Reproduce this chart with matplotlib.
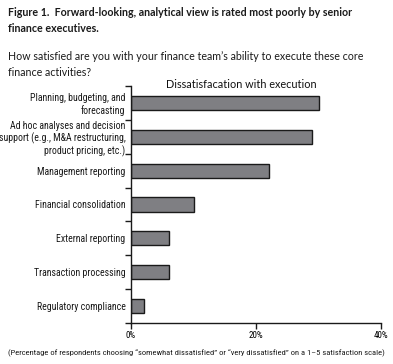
import matplotlib
matplotlib.use("Agg")
import matplotlib.pyplot as plt
from matplotlib.ticker import FixedLocator, FuncFormatter

categories = [
    "Planning, budgeting, and\nforecasting",
    "Ad hoc analyses and decision\nsupport (e.g., M&A restructuring,\nproduct pricing, etc.)",
    "Management reporting",
    "Financial consolidation",
    "External reporting",
    "Transaction processing",
    "Regulatory compliance",
]
values = [30, 29, 22, 10, 6, 6, 2]
xticks = [0, 20, 40]

W, H = 393, 364
fig = plt.figure(figsize=(W / 100, H / 100), dpi=100)
fig.patch.set_facecolor("white")

narrow = ["Roboto Condensed", "DejaVu Sans"]
body = ["Lato", "DejaVu Sans"]

ax = fig.add_axes([131 / W, (H - 323) / H, (381 - 131) / W, (323 - 86) / H])
n = len(categories)
ypos = list(range(n))
ax.barh(ypos, values, height=0.42, color="#7f7f83", edgecolor="#1a1a1a", linewidth=1.0)
ax.set_xlim(0, 40)
ax.set_ylim(n - 0.5, -0.5)
for s in ["top", "right"]:
    ax.spines[s].set_visible(False)
for s in ["left", "bottom"]:
    ax.spines[s].set_color("#1a1a1a")
    ax.spines[s].set_linewidth(1.0)

ax.set_xticks(xticks)
ax.xaxis.set_major_formatter(FuncFormatter(lambda v, p: f"{int(v)}%"))
ax.tick_params(axis="x", length=4, width=1, color="#1a1a1a", pad=2, labelsize=6.5)
for lab in ax.get_xticklabels():
    lab.set_family(narrow)

ax.set_yticks(ypos)
ax.set_yticklabels(categories, family=narrow, fontsize=7.1, linespacing=1.15, color="#1a1a1a")
ax.tick_params(axis="y", which="major", length=0, pad=4)
ax.yaxis.set_minor_locator(FixedLocator([i + 0.5 for i in range(-1, n)]))
ax.tick_params(axis="y", which="minor", length=4, width=1, color="#1a1a1a")

fig.text(241 / W, 1 - 88.5 / H, "Dissatisfacation with execution", ha="center", va="baseline",
         fontsize=7.8, family=body, color="#111111")

fig.text(8 / W, 1 - 7 / H,
         "Figure 1.  Forward-looking, analytical view is rated most poorly by senior\nfinance executives.",
         ha="left", va="top", fontsize=7.7, fontweight="bold", family=body, color="#1a1a1a",
         linespacing=1.55)
fig.text(8 / W, 1 - 51 / H,
         "How satisfied are you with your finance team\u2019s ability to execute these core\nfinance activities?",
         ha="left", va="top", fontsize=7.65, family=body, color="#1a1a1a", linespacing=1.5)
fig.text(8 / W, 1 - 353 / H,
         "(Percentage of respondents choosing \u201csomewhat dissatisfied\u201d or \u201cvery dissatisfied\u201d on a 1\u20135 satisfaction scale)",
         ha="left", va="center", fontsize=6.1, family=narrow, color="#1a1a1a")

fig.savefig("out.png", dpi=100)
